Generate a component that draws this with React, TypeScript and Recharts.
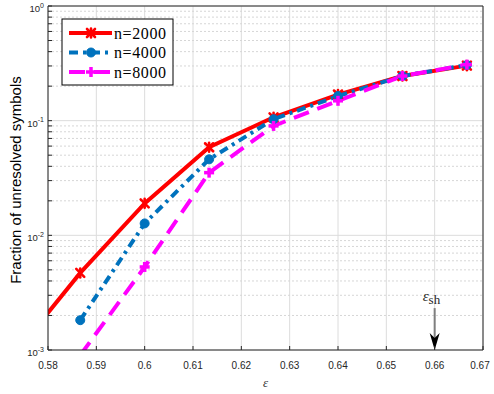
import { CartesianGrid, Label, Line, LineChart, ReferenceLine, XAxis, YAxis } from "recharts";

// erasure fraction on the x axis, fraction of unresolved symbols on the y axis
const epsN2000 = [0.57333, 0.58667, 0.6, 0.61333, 0.62667, 0.64, 0.65333, 0.66667];
const fracN2000 = [0.00095, 0.0047, 0.019, 0.0586, 0.107, 0.169, 0.245, 0.302];
const epsN4000 = [0.58667, 0.6, 0.61333, 0.62667, 0.64, 0.65333, 0.66667];
const fracN4000 = [0.00182, 0.0127, 0.046, 0.103, 0.164, 0.245, 0.306];
const epsN8000 = [0.58667, 0.6, 0.61333, 0.62667, 0.64, 0.65333, 0.66667];
const fracN8000 = [0.0009, 0.0053, 0.0352, 0.09, 0.149, 0.245, 0.308];

const xTicks = [0.58, 0.59, 0.6, 0.61, 0.62, 0.63, 0.64, 0.65, 0.66, 0.67];
const yMajor = [0.001, 0.01, 0.1, 1];
const yMinor = [0.001, 0.01, 0.1].flatMap((d) => [2, 3, 4, 5, 6, 7, 8, 9].map((k) => +(k * d).toPrecision(3)));
const epsSh = 0.66;

const zip = (xs: number[], ys: number[]) => xs.map((x, i) => ({ x, y: ys[i] }));

const RED = "#ff0000";
const BLUE = "#0072bd";
const MAGENTA = "#ff00ff";
const SANS = "'Liberation Sans', Arial, sans-serif";
const SERIF = "'Liberation Serif', 'Times New Roman', serif";

const Star = ({ cx, cy, c }: any) => (
  <g stroke={c} strokeWidth={2.6} strokeLinecap="round">
    <line x1={cx - 4} y1={cy - 4} x2={cx + 4} y2={cy + 4} />
    <line x1={cx - 4} y1={cy + 4} x2={cx + 4} y2={cy - 4} />
    <line x1={cx} y1={cy - 4.5} x2={cx} y2={cy + 4.5} />
  </g>
);
const Dot = ({ cx, cy, c }: any) => <circle cx={cx} cy={cy} r={4.5} fill={c} stroke={c} />;
const Plus = ({ cx, cy, c }: any) => (
  <g stroke={c} strokeWidth={3.5}>
    <line x1={cx - 5} y1={cy} x2={cx + 5} y2={cy} />
    <line x1={cx} y1={cy - 5} x2={cx} y2={cy + 5} />
  </g>
);

const series = [
  { name: "n=2000", data: zip(epsN2000, fracN2000), color: RED, dash: undefined, Mark: Star },
  { name: "n=4000", data: zip(epsN4000, fracN4000), color: BLUE, dash: "9 5 3 5", Mark: Dot },
  { name: "n=8000", data: zip(epsN8000, fracN8000), color: MAGENTA, dash: "16 9", Mark: Plus },
];

const XTick = ({ x, y, payload }: any) => (
  <text x={x} y={y + 19} textAnchor="middle" fontSize={10} fill="#262626" fontFamily={SANS}>
    {String(payload.value)}
  </text>
);

const YTick = ({ x, y, payload }: any) => {
  const v = payload.value as number;
  const e = Math.round(Math.log10(v));
  if (!yMajor.includes(v)) return <g />;
  return (
    <text x={x} y={y + 6} textAnchor="end" fontSize={9.5} fill="#262626" fontFamily={SANS}>
      <tspan>10</tspan>
      <tspan dy={-4.5} fontSize={7}>{e}</tspan>
    </text>
  );
};

const Arrow = ({ x1, y1, y2 }: any) => {
  const top = Math.min(y1, y2);
  const bot = Math.max(y1, y2);
  return (
    <g>
      <line x1={x1} y1={top} x2={x1} y2={bot - 12} stroke="#7f7f7f" strokeWidth={2} />
      <polygon points={`${x1},${bot} ${x1 - 5},${bot - 17} ${x1},${bot - 12} ${x1 + 5},${bot - 17}`} fill="#000" />
      <text x={x1 - 12} y={top - 7} fontFamily={SERIF} fill="#262626">
        <tspan fontSize={15} fontStyle="italic">ε</tspan>
        <tspan fontSize={13} dy={3}>sh</tspan>
      </text>
    </g>
  );
};

function LegendBox() {
  return (
    <svg width={120} height={75} style={{ position: "absolute", left: 61, top: 18 }}>
      <rect x={1} y={1} width={111} height={66} fill="#fff" stroke="#000" strokeWidth={1} />
      {series.map((s, i) => {
        const cy = 15 + i * 19.5;
        return (
          <g key={s.name}>
            <line x1={8} y1={cy} x2={51} y2={cy} stroke={s.color} strokeWidth={4} strokeDasharray={s.dash} />
            <s.Mark cx={30} cy={cy} c={s.color} />
            <text x={53} y={cy + 5.5} fontSize={16} letterSpacing={0.6} fontFamily={SERIF} fill="#000">
              {s.name}
            </text>
          </g>
        );
      })}
    </svg>
  );
}

export default function App() {
  return (
    <div style={{ position: "absolute", left: 0, top: 0, width: 494, height: 394, background: "#fff" }}>
      <LineChart width={494} height={394} margin={{ top: 5, right: 10, bottom: 14, left: 0 }}>
        <CartesianGrid stroke="#dcdcdc" horizontalValues={yMajor} verticalValues={xTicks} />
        <CartesianGrid stroke="#d6d6d6" strokeDasharray="2 2" vertical={false} horizontalValues={yMinor} />
        <XAxis
          dataKey="x"
          type="number"
          domain={[0.58, 0.67]}
          ticks={xTicks}
          allowDataOverflow
          height={30}
          tickSize={-4}
          tickMargin={4}
          tick={<XTick />}
          stroke="#262626"
        >
          <Label
            content={({ viewBox }: any) => (
              <text x={viewBox.x + viewBox.width / 2} y={viewBox.y + 37} textAnchor="middle" fontSize={13} fontStyle="italic" fontFamily={SERIF} fill="#333">
                ε
              </text>
            )}
          />
        </XAxis>
        <XAxis xAxisId="top" orientation="top" type="number" domain={[0.58, 0.67]} ticks={xTicks} allowDataOverflow height={1} tickSize={-4} tick={false} stroke="#262626" />
        <YAxis
          scale="log"
          domain={[0.001, 1]}
          ticks={[...yMajor, ...yMinor]}
          allowDataOverflow
          width={48}
          tickSize={-4}
          tickMargin={8}
          tick={<YTick />}
          interval={0}
          stroke="#262626"
        >
          <Label
            content={() => (
              <text x={21} y={180} transform="rotate(-90, 21, 180)" textAnchor="middle" fontSize={15} fontFamily={SANS} fill="#000">
                Fraction of unresolved symbols
              </text>
            )}
          />
        </YAxis>
        <YAxis yAxisId="right" orientation="right" scale="log" domain={[0.001, 1]} ticks={[...yMajor, ...yMinor]} allowDataOverflow interval={0} width={1} tickSize={-4} tick={false} stroke="#262626" />
        {series.map((s) => (
          <Line
            key={s.name}
            data={s.data}
            dataKey="y"
            type="linear"
            stroke={s.color}
            strokeWidth={4}
            strokeDasharray={s.dash}
            dot={(p: any) => <s.Mark key={`${s.name}-${p.index}`} cx={p.cx} cy={p.cy} c={s.color} />}
            activeDot={false}
            isAnimationActive={false}
          />
        ))}
        <ReferenceLine
          segment={[
            { x: epsSh, y: 0.00232 },
            { x: epsSh, y: 0.001 },
          ]}
          shape={(p: any) => <Arrow {...p} />}
        />
      </LineChart>
      <LegendBox />
    </div>
  );
}
